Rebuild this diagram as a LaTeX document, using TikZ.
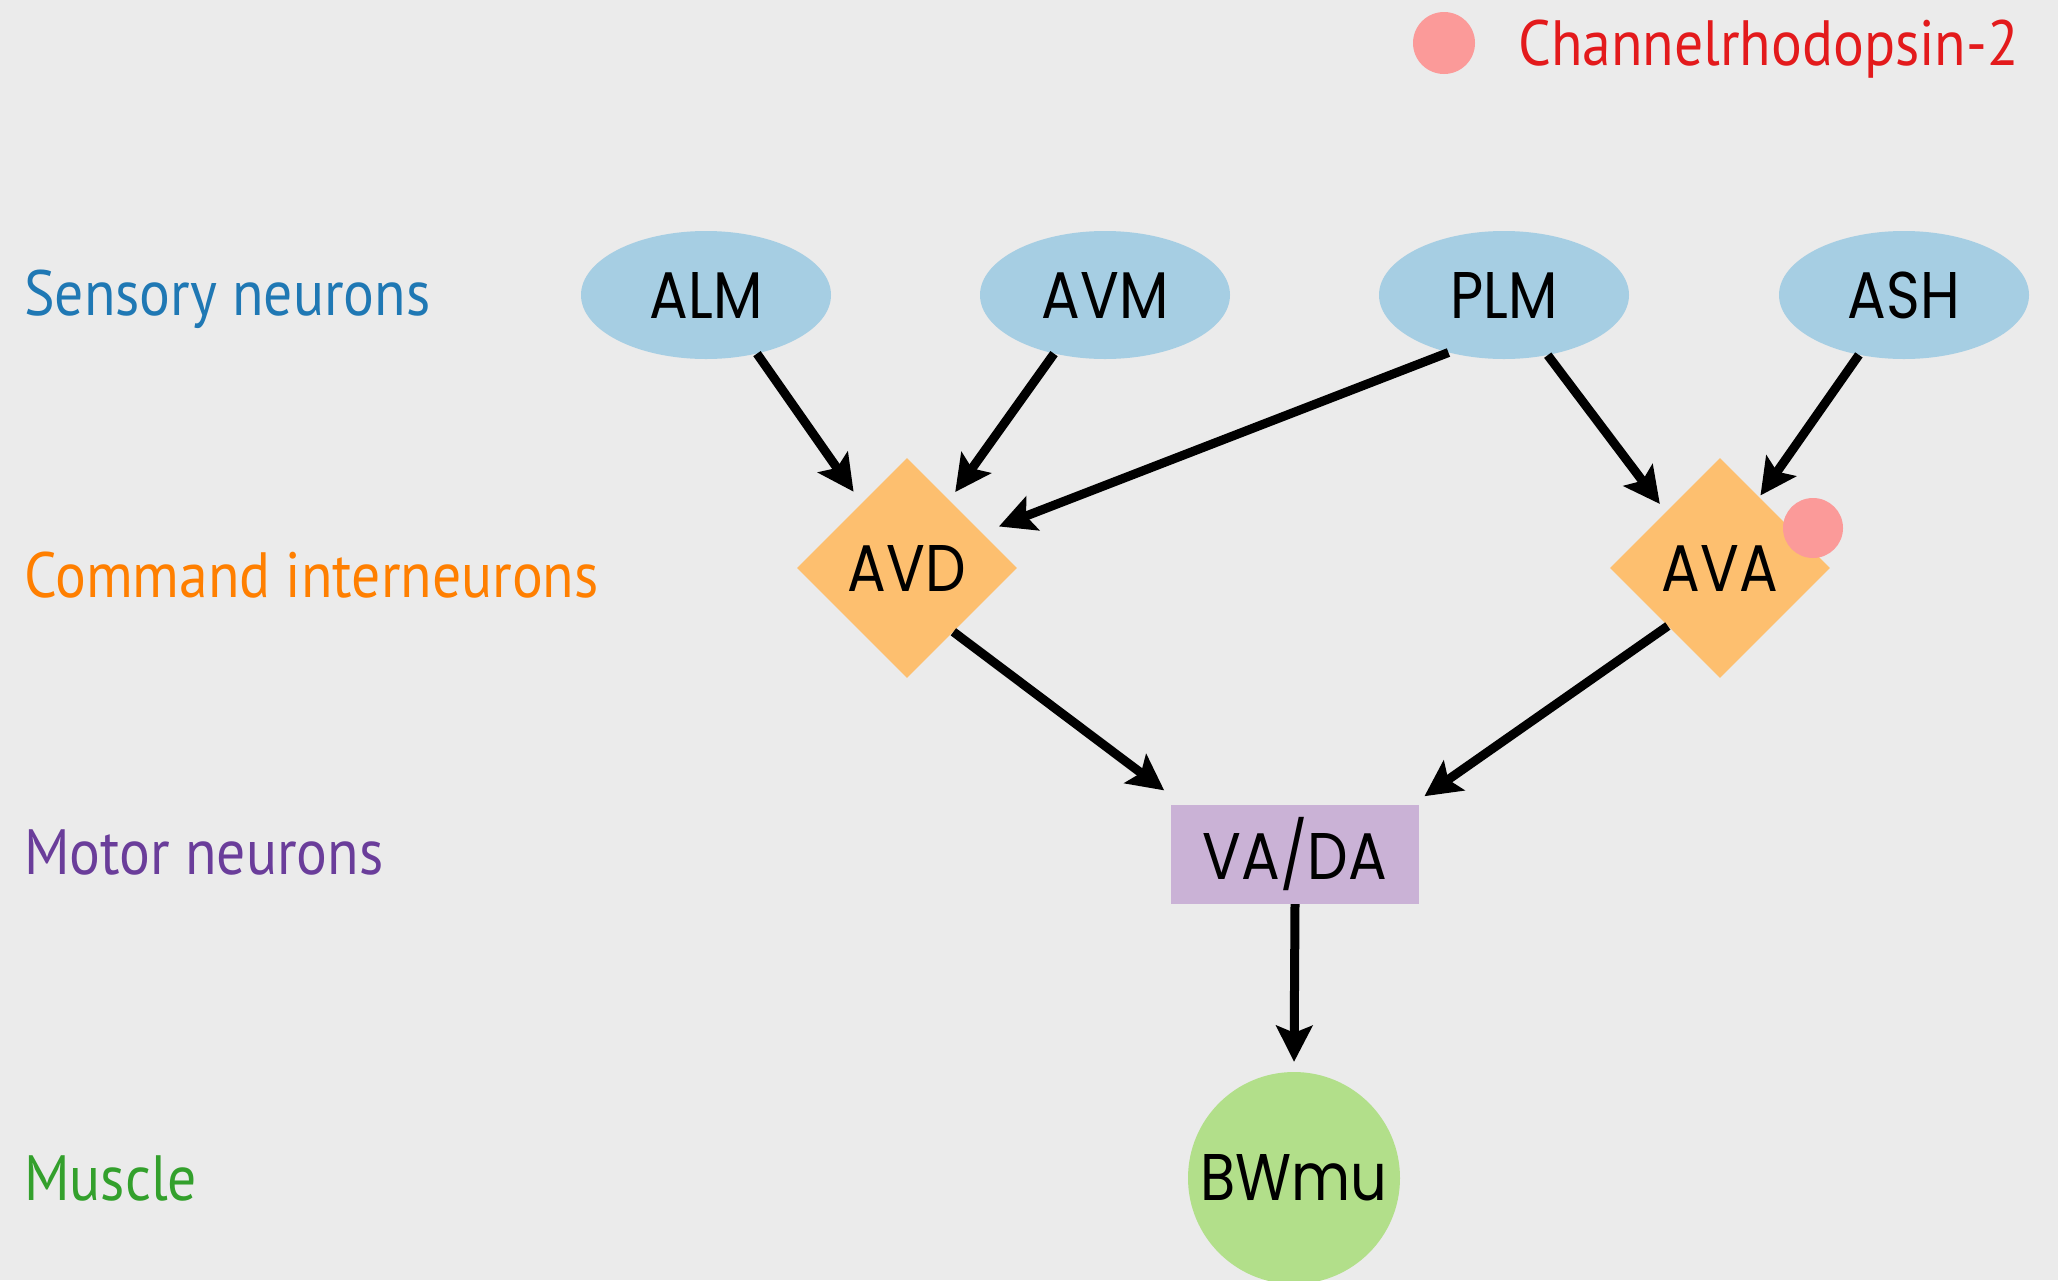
\documentclass[tikz,border=0pt]{standalone}
\usepackage{fontspec}
\usetikzlibrary{shapes.geometric,arrows.meta}
\newfontfamily\lblfont[FakeStretch=0.9]{PT Sans}
\newfontfamily\nfont[FakeStretch=0.87]{Poppins}
\definecolor{bgc}{HTML}{EBEBEB}
\definecolor{senc}{HTML}{A6CEE3}
\definecolor{cmdc}{HTML}{FDBF6F}
\definecolor{motc}{HTML}{CAB2D6}
\definecolor{musc}{HTML}{B2DF8A}
\definecolor{dotc}{HTML}{FB9A99}
\definecolor{senl}{HTML}{1F78B4}
\definecolor{cmdl}{HTML}{FF7F00}
\definecolor{motl}{HTML}{6A3D9A}
\definecolor{musl}{HTML}{33A02C}
\definecolor{redl}{HTML}{E31A1C}
\tikzset{
  lbl/.style={anchor=base west, inner sep=0pt, font=\lblfont\fontsize{64}{70}\selectfont},
  sens/.style={ellipse, fill=senc, minimum width=250pt, minimum height=128pt, inner sep=0pt, font=\nfont\fontsize{66}{70}\selectfont},
  cmd/.style={diamond, aspect=1, fill=cmdc, minimum size=220pt, inner sep=0pt, font=\nfont\fontsize{66}{70}\selectfont},
  mot/.style={rectangle, fill=motc, minimum width=248pt, minimum height=99pt, inner sep=0pt, font=\nfont\fontsize{66}{70}\selectfont},
  mus/.style={circle, fill=musc, minimum size=212pt, inner sep=0pt, font=\nfont\fontsize{66}{70}\selectfont},
  chdot/.style={circle, fill=dotc, minimum size=#1, inner sep=0pt},
  conn/.style={line width=9pt, -{Stealth[length=36pt,width=36pt,inset=7pt]}}
}
\begin{document}
\begin{tikzpicture}[x=1pt,y=-1pt]
\fill[bgc] (0,0) rectangle (2058,1280);
\useasboundingbox (0,0) rectangle (2058,1280);
% legend
\node[chdot=62pt] (legdot) at (1444,43) {};
\node[lbl, text=redl] (legtxt) at (1518,65) {Channelrhodopsin-2};
% row labels
\node[lbl, text=senl] (lsens) at (24,315) {Sensory neurons};
\node[lbl, text=cmdl] (lcmd) at (24,597) {Command interneurons};
\node[lbl, text=motl] (lmot) at (24,874) {Motor neurons};
\node[lbl, text=musl] (lmus) at (24,1200) {Muscle};
% nodes
\node[sens] (ALM) at (706,295) {ALM};
\node[sens] (AVM) at (1105,295) {AVM};
\node[sens] (PLM) at (1504,295) {PLM};
\node[sens] (ASH) at (1904,295) {ASH};
\node[cmd] (AVD) at (907,568) {AVD};
\node[cmd] (AVA) at (1720,568) {AVA};
\node[chdot=60pt] (avadot) at (1813,528) {};
\node[mot] (VADA) at (1295,854.5) {VA/DA};
\node[mus] (BWmu) at (1294,1178) {BWmu};
% connectors
\draw[conn, shorten >=14pt] (ALM.-49) -- (AVD.125);
\draw[conn, shorten >=10pt] (AVM.229) -- (AVD.58);
\draw[conn, shorten >=18pt] (PLM.226) -- (AVD.25);
\draw[conn, shorten >=10pt] (PLM.306) -- (AVA.134);
\draw[conn, shorten >=2pt] (ASH.233) -- (AVA.61);
\draw[conn, shorten >=24pt] (AVD.306) -- (VADA.156);
\draw[conn, shorten >=15pt] (AVA.228) -- (VADA.23);
\draw[conn, shorten >=10pt] (VADA.south) -- (BWmu.north);
\end{tikzpicture}
\end{document}
